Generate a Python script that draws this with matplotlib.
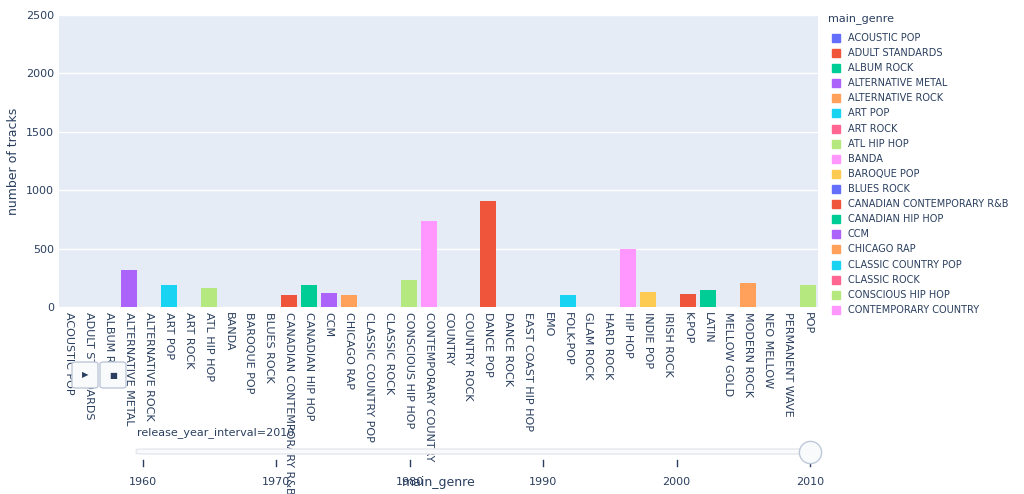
import matplotlib
matplotlib.use("Agg")
import matplotlib.pyplot as plt
from matplotlib.patches import FancyBboxPatch, Rectangle

genres = ["ACOUSTIC POP","ADULT STANDARDS","ALBUM ROCK","ALTERNATIVE METAL","ALTERNATIVE ROCK","ART POP",
          "ART ROCK","ATL HIP HOP","BANDA","BAROQUE POP","BLUES ROCK","CANADIAN CONTEMPORARY R&B",
          "CANADIAN HIP HOP","CCM","CHICAGO RAP","CLASSIC COUNTRY POP","CLASSIC ROCK","CONSCIOUS HIP HOP",
          "CONTEMPORARY COUNTRY","COUNTRY","COUNTRY ROCK","DANCE POP","DANCE ROCK","EAST COAST HIP HOP",
          "EMO","FOLK-POP","GLAM ROCK","HARD ROCK","HIP HOP","INDIE POP","IRISH ROCK","K-POP","LATIN",
          "MELLOW GOLD","MODERN ROCK","NEO MELLOW","PERMANENT WAVE","POP"]
counts = [0,0,0,319,0,190,0,164,0,0,0,103,190,120,103,0,0,233,733,0,0,907,0,0,0,103,0,0,500,130,0,112,146,0,207,0,0,190]
palette = ["#636EFA","#EF553B","#00CC96","#AB63FA","#FFA15A","#19D3F3","#FF6692","#B6E880","#FF97FF","#FECB52"]
slider_ticks = [1960,1970,1980,1990,2000,2010]

fig = plt.figure(figsize=(10.24,4.94), dpi=100)
ax = fig.add_axes([59/1024, 1-307/494, (818-59)/1024, 292/494])
ax.set_facecolor("#E5ECF6")
for i,(g,c) in enumerate(zip(genres,counts)):
    ax.bar(i, c, width=0.8, color=palette[i%10], label=g, zorder=3)
ax.set_xlim(-0.5, len(genres)-0.5)
ax.set_ylim(0,2500)
ax.set_yticks([0,500,1000,1500,2000,2500])
ax.grid(axis="y", color="white", linewidth=1, zorder=0)
for s in ax.spines.values(): s.set_visible(False)
ax.tick_params(length=0, labelsize=8, colors="#2a3f5f")
ax.set_xticks(range(len(genres)))
ax.set_xticklabels(genres, rotation=-90, fontsize=8)
ax.set_ylabel("number of tracks", fontsize=9, color="#2a3f5f")
ax.set_xlabel("main_genre", fontsize=9, color="#2a3f5f")
ax.xaxis.set_label_coords(0.5, -0.58)

# legend
fig.text(828/1024, 1-19/494, "main_genre", fontsize=8, color="#2a3f5f", va="center")
for i in range(19):
    y = 1-(38+i*15.1)/494
    if y < 1-310/494: break
    fig.patches.append(Rectangle((832/1024, y-4/494), 8/1024, 8/494, color=palette[i%10], transform=fig.transFigure))
    fig.text(848/1024, y, genres[i], fontsize=7, color="#2a3f5f", va="center")

# slider
sax = fig.add_axes([143/1024, 1-490/494, (810-143)/1024, 50/494])
sax.set_xlim(1960, 2010); sax.set_ylim(0,50); sax.axis("off")
sax.add_patch(FancyBboxPatch((1959.5,36),51,5, boxstyle="round,pad=0,rounding_size=2", fc="#F8FAFC", ec="#E5E7EB", clip_on=False, mutation_aspect=0.2))
for t in slider_ticks:
    sax.plot([t,t],[24,30], color="#2a3f5f", lw=1, clip_on=False)
    sax.text(t, 8, str(t), ha="center", va="center", fontsize=8, color="#2a3f5f")
sax.plot([2010],[38.5], marker="o", ms=16, mfc="#F8FAFC", mec="#BEC8D9", clip_on=False)
fig.text(137/1024, 1-433/494, "release_year_interval=2010", fontsize=8, color="#2a3f5f", va="center")
for x0, sym in [(72,"▶"),(100,"■")]:
    fig.patches.append(FancyBboxPatch((x0/1024, 1-388/494), 26/1024, 26/494, boxstyle="round,pad=0,rounding_size=0.004",
                                      fc="#F8FAFC", ec="#BEC8D9", transform=fig.transFigure))
    fig.text((x0+13)/1024, 1-375/494, sym, fontsize=6, ha="center", va="center", color="#2a3f5f")
fig.savefig("out.png", dpi=100)
